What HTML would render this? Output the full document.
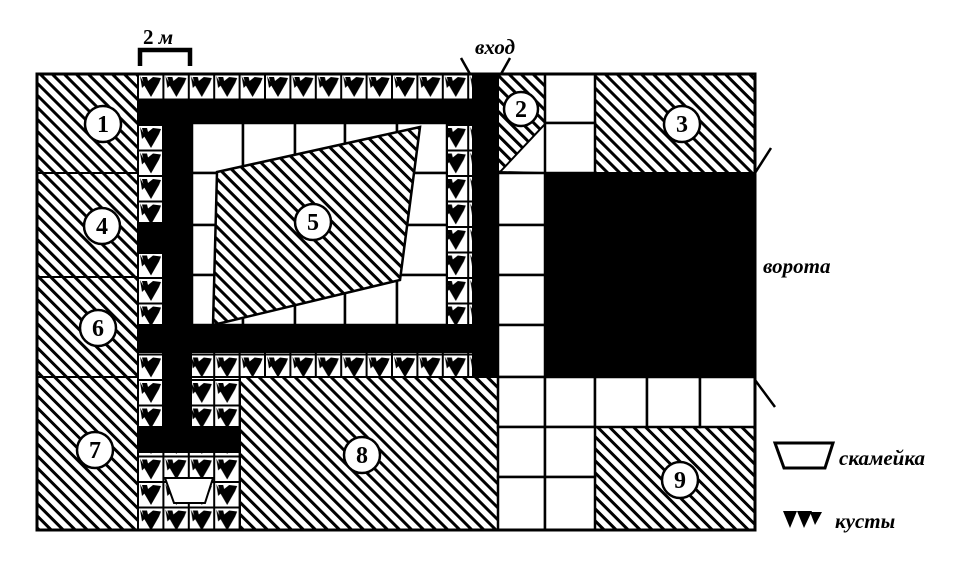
<!DOCTYPE html>
<html><head><meta charset="utf-8"><style>
html,body{margin:0;padding:0;background:#fff;}
svg{display:block;}
text{font-family:"Liberation Serif",serif;font-weight:bold;}
</style></head><body>
<svg width="980" height="565" viewBox="0 0 980 565" xmlns="http://www.w3.org/2000/svg">
<defs>
<pattern id="h" patternUnits="userSpaceOnUse" width="8.5" height="8.5" patternTransform="rotate(-45)">
<rect width="8.5" height="8.5" fill="#fff"/><rect x="0" y="0" width="3" height="8.5" fill="#000"/>
</pattern>
<pattern id="b" patternUnits="userSpaceOnUse" x="138" y="74" width="25.4" height="25.5">
<rect width="25.4" height="25.5" fill="#fff" stroke="#000" stroke-width="2"/>
<path d="M4 3 L9 3 L10 7 L15 3 L23 4 L21 9 L13 23 L6 11 Z" fill="#000"/>
<path d="M2 2 L4 14 L7 11 Z" fill="#000"/>
</pattern>
</defs>

<g stroke="#000" stroke-width="2">
<rect x="37" y="74" width="101" height="99" fill="url(#h)"/>
<rect x="37" y="173" width="101" height="104" fill="url(#h)"/>
<rect x="37" y="277" width="101" height="100" fill="url(#h)"/>
<rect x="37" y="377" width="101" height="153" fill="url(#h)"/>
<rect x="240" y="377" width="258" height="153" fill="url(#h)"/>
<rect x="595" y="74" width="160" height="99" fill="url(#h)"/>
<rect x="595" y="427" width="160" height="103" fill="url(#h)"/>
<rect x="498" y="74" width="47" height="99" fill="url(#h)"/>
</g>
<polygon points="500,172 545,124 545,173" fill="#fff" stroke="#000" stroke-width="2"/>

<g fill="#fff" stroke="#000" stroke-width="2.5">
<rect x="192" y="123" width="51" height="50"/><rect x="243" y="123" width="52" height="50"/><rect x="295" y="123" width="50" height="50"/><rect x="345" y="123" width="52" height="50"/><rect x="397" y="123" width="50" height="50"/>
<rect x="192" y="173" width="51" height="52"/><rect x="243" y="173" width="52" height="52"/><rect x="295" y="173" width="50" height="52"/><rect x="345" y="173" width="52" height="52"/><rect x="397" y="173" width="50" height="52"/>
<rect x="192" y="225" width="51" height="50"/><rect x="243" y="225" width="52" height="50"/><rect x="295" y="225" width="50" height="50"/><rect x="345" y="225" width="52" height="50"/><rect x="397" y="225" width="50" height="50"/>
<rect x="192" y="275" width="51" height="50"/><rect x="243" y="275" width="52" height="50"/><rect x="295" y="275" width="50" height="50"/><rect x="345" y="275" width="52" height="50"/><rect x="397" y="275" width="50" height="50"/>
<rect x="498" y="173" width="47" height="52"/><rect x="498" y="225" width="47" height="50"/><rect x="498" y="275" width="47" height="50"/><rect x="498" y="325" width="47" height="52"/><rect x="498" y="377" width="47" height="50"/><rect x="498" y="427" width="47" height="50"/><rect x="498" y="477" width="47" height="53"/>
<rect x="545" y="74" width="50" height="49"/><rect x="545" y="123" width="50" height="50"/>
<rect x="545" y="377" width="50" height="50"/><rect x="595" y="377" width="52" height="50"/><rect x="647" y="377" width="53" height="50"/><rect x="700" y="377" width="55" height="50"/>
<rect x="545" y="427" width="50" height="50"/><rect x="545" y="477" width="50" height="53"/>
</g>
<polygon points="217,172 420,127 400,280 213,325" fill="url(#h)" stroke="#000" stroke-width="2.5"/>

<g stroke="#000" stroke-width="2">
<rect x="138" y="74" width="335" height="26" fill="url(#b)"/>
<rect x="138" y="123" width="25" height="100" fill="url(#b)"/>
<rect x="138" y="253" width="25" height="72" fill="url(#b)"/>
<rect x="447" y="123" width="26" height="202" fill="url(#b)"/>
<rect x="138" y="352" width="25" height="75" fill="url(#b)"/>
<rect x="190" y="352" width="283" height="25" fill="url(#b)"/>
<rect x="190" y="377" width="50" height="50" fill="url(#b)"/>
<rect x="138" y="452" width="102" height="78" fill="url(#b)"/>
</g>
<polygon points="165,478 213,478 205,503 174,503" fill="#fff" stroke="#000" stroke-width="2"/>

<g fill="#000">
<rect x="138" y="100" width="360" height="23"/>
<rect x="163" y="100" width="29" height="352"/>
<rect x="473" y="74" width="25" height="303"/>
<rect x="138" y="325" width="360" height="27"/>
<rect x="138" y="223" width="26" height="30"/>
<rect x="138" y="427" width="102" height="25"/>
<rect x="545" y="173" width="210" height="204"/>
</g>

<rect x="37" y="74" width="718" height="456" fill="none" stroke="#000" stroke-width="3"/>

<g fill="#fff" stroke="#000" stroke-width="2.5">
<circle cx="103" cy="124" r="18"/><circle cx="102" cy="226" r="18"/><circle cx="98" cy="328" r="18"/><circle cx="95" cy="450" r="18"/>
<circle cx="313" cy="222" r="18"/><circle cx="362" cy="455" r="18"/><circle cx="521" cy="109" r="17"/><circle cx="682" cy="124" r="18"/><circle cx="680" cy="480" r="18"/>
</g>
<g font-size="24" text-anchor="middle">
<text x="103" y="132">1</text><text x="102" y="234">4</text><text x="98" y="336">6</text><text x="95" y="458">7</text>
<text x="313" y="230">5</text><text x="362" y="463">8</text><text x="521" y="117">2</text><text x="682" y="132">3</text><text x="680" y="488">9</text>
</g>

<text x="143" y="44" font-size="21">2 <tspan font-style="italic">м</tspan></text>
<path d="M140 66 V50 H190 V66" fill="none" stroke="#000" stroke-width="4.5"/>
<text x="495" y="54" font-size="21" font-style="italic" text-anchor="middle">вход</text>
<path d="M461 58 L470 74 M510 58 L501 74" stroke="#000" stroke-width="2.5"/>
<path d="M755 173 L771 148 M755 380 L775 407" stroke="#000" stroke-width="2.5"/>
<text x="763" y="273" font-size="21" font-style="italic">ворота</text>
<polygon points="775,443 833,443 825,468 784,468" fill="#fff" stroke="#000" stroke-width="3"/>
<text x="839" y="465" font-size="21" font-style="italic">скамейка</text>
<path d="M783 511 L797 511 L790 528 Z M797 511 L812 511 L804 528 Z M810 512 L822 512 L815 525 Z" fill="#000"/>
<text x="835" y="528" font-size="21" font-style="italic">кусты</text>
</svg>
</body></html>
